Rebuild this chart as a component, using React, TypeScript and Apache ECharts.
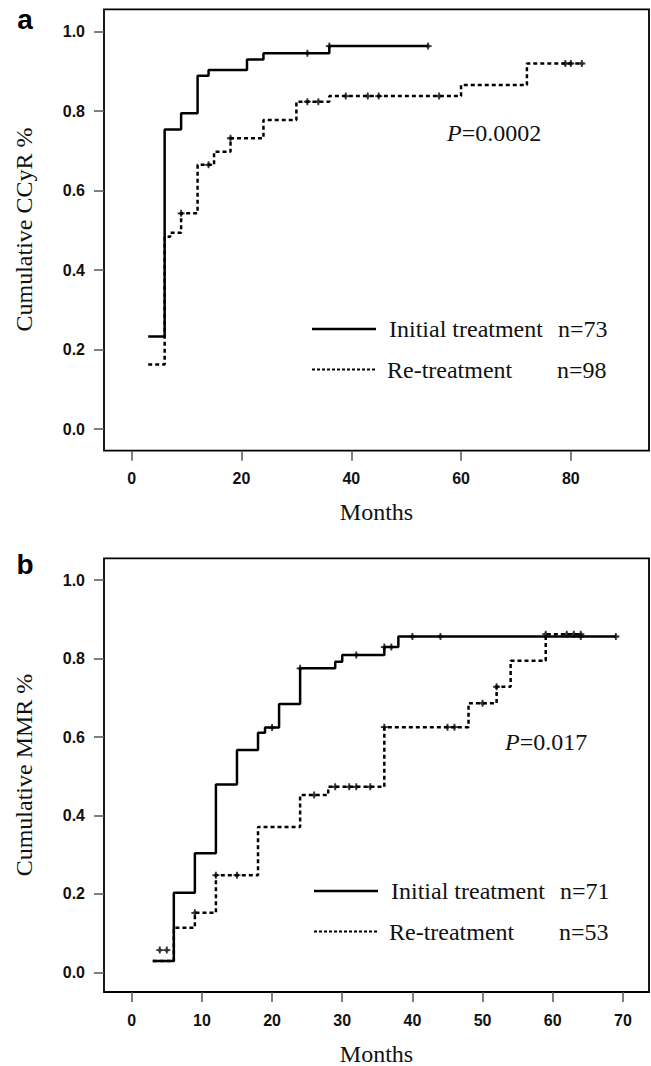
import React, { useEffect, useRef } from "react";
import * as echarts from "echarts";

// ---- Panel a (CCyR) ----
const A_INIT_T = [3, 6, 9, 12, 14, 21, 24, 36, 54];
const A_INIT_S = [0.233, 0.754, 0.795, 0.889, 0.904, 0.93, 0.946, 0.964, 0.964];
const A_INIT_CT = [32, 36, 54];
const A_INIT_CS = [0.946, 0.964, 0.964];

const A_RE_T = [3, 6, 7, 9, 12, 15, 18, 24, 30, 36, 60, 72, 82];
const A_RE_S = [0.163, 0.484, 0.494, 0.543, 0.665, 0.698, 0.732, 0.778, 0.824, 0.838, 0.866, 0.92, 0.92];
const A_RE_CT = [9, 14, 18, 32, 34, 39, 43, 45, 56, 79, 80, 82];
const A_RE_CS = [0.543, 0.665, 0.732, 0.824, 0.824, 0.838, 0.838, 0.838, 0.838, 0.92, 0.92, 0.92];

// ---- Panel b (MMR) ----
const B_INIT_T = [3, 6, 9, 12, 15, 18, 19, 21, 24, 29, 30, 36, 38, 69];
const B_INIT_S = [0.029, 0.203, 0.304, 0.479, 0.567, 0.611, 0.624, 0.684, 0.775, 0.792, 0.809, 0.829, 0.856, 0.856];
const B_INIT_CT = [20, 24, 32, 36, 37, 40, 44, 64, 69];
const B_INIT_CS = [0.624, 0.775, 0.809, 0.829, 0.829, 0.856, 0.856, 0.856, 0.856];

const B_RE_T = [3, 6, 9, 12, 18, 24, 28, 36, 48, 52, 54, 59, 64];
const B_RE_S = [0.029, 0.114, 0.152, 0.248, 0.371, 0.452, 0.473, 0.625, 0.686, 0.728, 0.794, 0.862, 0.862];
const B_RE_CT = [4, 5, 9, 12, 15, 26, 29, 31, 32, 34, 36, 45, 46, 50, 52, 59, 62, 63, 64];
const B_RE_CS = [0.057, 0.057, 0.152, 0.248, 0.248, 0.452, 0.473, 0.473, 0.473, 0.473, 0.625, 0.625, 0.625, 0.686, 0.728, 0.862, 0.862, 0.862, 0.862];

const X_TICKS_A = [0, 20, 40, 60, 80];
const X_TICKS_B = [0, 10, 20, 30, 40, 50, 60, 70];
const Y_TICKS = [0, 0.2, 0.4, 0.6, 0.8, 1.0];

const SANS = "'Liberation Sans', Arial, sans-serif";
const SERIF = "'Liberation Serif', 'Times New Roman', serif";
const PLUS =
  "path://M2.6,0 L4.4,0 L4.4,1.6 L5.4,2.6 L7,2.6 L7,4.4 L5.4,4.4 L4.4,5.4 L4.4,7 L2.6,7 L2.6,5.4 L1.6,4.4 L0,4.4 L0,2.6 L1.6,2.6 L2.6,1.6 Z";

const zip = (t: number[], s: number[]) => t.map((x, i) => [x, s[i]]);

function xAxis(grid: number, min: number, max: number, ticks: number[]) {
  return {
    gridIndex: grid,
    type: "value",
    position: "bottom",
    min,
    max,
    axisLine: { show: false, onZero: false },
    splitLine: { show: false },
    axisTick: { show: true, inside: false, length: 10, customValues: ticks, lineStyle: { color: "#555", width: 1.5 } },
    axisLabel: {
      customValues: ticks,
      margin: 20,
      fontSize: 16,
      fontWeight: "bold",
      fontFamily: SANS,
      color: "#111",
    },
  };
}

function yAxis(grid: number, min: number, max: number) {
  return {
    gridIndex: grid,
    type: "value",
    position: "left",
    min,
    max,
    axisLine: { show: false, onZero: false },
    splitLine: { show: false },
    axisTick: { show: true, inside: false, length: 10, customValues: Y_TICKS, lineStyle: { color: "#555", width: 1.5 } },
    axisLabel: {
      customValues: Y_TICKS,
      margin: 19,
      fontSize: 16,
      fontWeight: "bold",
      fontFamily: SANS,
      color: "#111",
      formatter: (v: number) => v.toFixed(1),
    },
  };
}

function lineSeries(idx: number, data: number[][], dashed: boolean) {
  return {
    type: "line",
    xAxisIndex: idx,
    yAxisIndex: idx,
    step: "end",
    showSymbol: false,
    data,
    lineStyle: { color: "#000", width: 2.5, type: dashed ? [4, 3] : "solid" },
    z: dashed ? 2 : 3,
  };
}

function censorSeries(idx: number, data: number[][]) {
  return {
    type: "scatter",
    xAxisIndex: idx,
    yAxisIndex: idx,
    symbol: PLUS,
    symbolSize: 7,
    itemStyle: { color: "#000" },
    data,
    z: 4,
  };
}

function legend(y1: number, y2: number, x0: number, n1: string, n2: string) {
  const t = (x: number, y: number, s: string) => ({
    type: "text",
    x,
    y,
    style: { text: s, fontSize: 24, fontFamily: SERIF, fill: "#111", align: "left", verticalAlign: "middle" },
  });
  return [
    { type: "line", shape: { x1: x0, y1: y1, x2: x0 + 64, y2: y1 }, style: { stroke: "#000", lineWidth: 2.5 } },
    { type: "line", shape: { x1: x0, y1: y2, x2: x0 + 63, y2: y2 }, style: { stroke: "#000", lineWidth: 2, lineDash: [3, 2] } },
    t(x0 + 77, y1, "Initial treatment"),
    t(x0 + 246, y1, n1),
    t(x0 + 75, y2, "Re-treatment"),
    t(x0 + 245, y2, n2),
  ];
}

function pText(x: number, y: number, val: string) {
  return {
    type: "text",
    x,
    y,
    style: {
      text: "{i|P}{n|=" + val + "}",
      align: "left",
      verticalAlign: "middle",
      rich: {
        i: { fontStyle: "italic", fontSize: 24, fontFamily: SERIF, fill: "#111" },
        n: { fontSize: 24, fontFamily: SERIF, fill: "#111" },
      },
    },
  };
}

function yTitle(y: number, s: string) {
  return {
    type: "text",
    x: 24,
    y,
    rotation: Math.PI / 2,
    style: { text: s, fontSize: 24, fontFamily: SERIF, fill: "#111", align: "center", verticalAlign: "middle" },
  };
}

function xTitle(y: number) {
  return {
    type: "text",
    x: 376.5,
    y,
    style: { text: "Months", fontSize: 24, fontFamily: SERIF, fill: "#111", align: "center", verticalAlign: "middle" },
  };
}

function letter(y: number, s: string) {
  return {
    type: "text",
    x: 25,
    y,
    style: { text: s, fontSize: 28, fontWeight: "bold", fontFamily: SANS, fill: "#000", align: "center", verticalAlign: "bottom" },
  };
}

export default function App() {
  const ref = useRef<HTMLDivElement>(null);
  useEffect(() => {
    if (!ref.current) return;
    const chart = echarts.init(ref.current, null, { renderer: "svg" });
    const gridStyle = { show: true, borderColor: "#000", borderWidth: 1.8, backgroundColor: "transparent" };
    chart.setOption({
      animation: false,
      backgroundColor: "#fff",
      grid: [
        { left: 104, top: 9.3, width: 545, height: 441.4, ...gridStyle },
        { left: 104, top: 558.3, width: 545, height: 433.7, ...gridStyle },
      ],
      xAxis: [xAxis(0, -5.05, 94.24, X_TICKS_A), xAxis(1, -3.95, 73.72, X_TICKS_B)],
      yAxis: [yAxis(0, -0.0541, 1.0564), yAxis(1, -0.0497, 1.0553)],
      series: [
        lineSeries(0, zip(A_RE_T, A_RE_S), true),
        lineSeries(0, zip(A_INIT_T, A_INIT_S), false),
        censorSeries(0, zip(A_RE_CT, A_RE_CS)),
        censorSeries(0, zip(A_INIT_CT, A_INIT_CS)),
        lineSeries(1, zip(B_RE_T, B_RE_S), true),
        lineSeries(1, zip(B_INIT_T, B_INIT_S), false),
        censorSeries(1, zip(B_RE_CT, B_RE_CS)),
        censorSeries(1, zip(B_INIT_CT, B_INIT_CS)),
      ],
      graphic: [
        letter(33, "a"),
        letter(578, "b"),
        yTitle(229.5, "Cumulative CCyR %"),
        yTitle(775, "Cumulative MMR %"),
        xTitle(512),
        xTitle(1054),
        pText(447, 133, "0.0002"),
        pText(505, 742, "0.017"),
        ...legend(329, 369.5, 312, "n=73", "n=98"),
        ...legend(891, 931.5, 314, "n=71", "n=53"),
      ],
    });
    return () => chart.dispose();
  }, []);
  return <div ref={ref} style={{ position: "absolute", left: 0, top: 0, width: 651, height: 1066 }} />;
}
